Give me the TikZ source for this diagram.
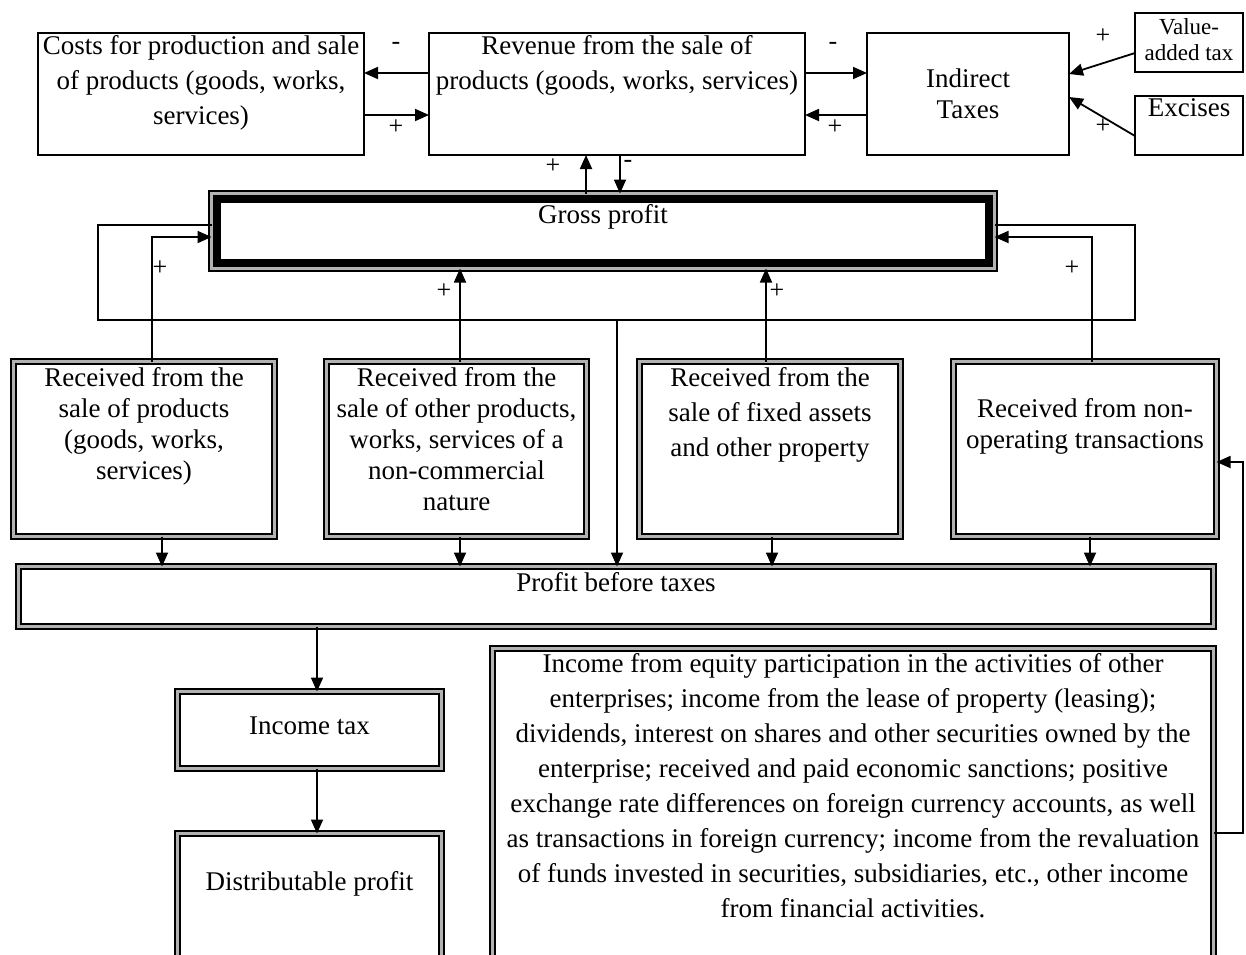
\documentclass[tikz,border=0pt]{standalone}
\usepackage{fontspec}
\setmainfont{Liberation Serif}
\usetikzlibrary{arrows.meta,positioning,fit}

\tikzset{
    box/.style={draw, line width=1pt, inner sep=0pt, outer sep=0pt},
    dbox/.style={draw, line width=0.9pt, double=gray!60, double distance=1.6pt,
        inner sep=0pt, outer sep=0pt},
    boxtext/.style={align=center, inner sep=1pt, anchor=north},
    sign/.style={inner sep=0pt, font=\fontsize{13}{14}\selectfont},
    link/.style={->, line width=0.9pt}
}

\begin{document}
\begin{tikzpicture}[x=0.5pt, y=-0.5pt, >={Triangle[length=7pt,width=6pt]},
    font=\fontsize{13.5}{17.5}\selectfont]

    \useasboundingbox (0,0) rectangle (1246,954);
    \clip (0,0) rectangle (1246,954);

    % top row
    \node[box, fit={(38,33) (364,155)}] (costs) {};
    \node[boxtext, below=0pt of costs.north] (costsTxt)
        {Costs for production and sale\\of products (goods, works,\\services)};

    \node[box, fit={(429,33) (805,155)}] (rev) {};
    \node[boxtext, below=0pt of rev.north] (revTxt)
        {Revenue from the sale of\\products (goods, works, services)};

    \node[box, fit={(867,33) (1069,155)}] (ind) {};
    \node[boxtext, below=16.5pt of ind.north,
        font=\fontsize{13.5}{15.5}\selectfont] (indTxt) {Indirect\\Taxes};

    \node[box, fit={(1135,13) (1243,72)}] (vat) {};
    \node[boxtext, below=1.5pt of vat.north,
        font=\fontsize{11.5}{13}\selectfont] (vatTxt) {Value-\\added tax};

    \node[box, fit={(1135,96) (1243,155)}] (exc) {};
    \node[boxtext, below=0pt of exc.north] (excTxt) {Excises};

    % gross profit
    \node[dbox, fit={(211.5,193.5) (994.5,268.5)}] (gross) {};
    \draw[line width=3pt] ([shift={(6.5,6.5)}]gross.north west)
        rectangle ([shift={(-6.5,-6.5)}]gross.south east);
    \node[boxtext, below=4.25pt of gross.north] (grossTxt) {Gross profit};

    % sources of profit
    \node[dbox, fit={(13.5,361.5) (274.5,536.5)}] (r1) {};
    \node[boxtext, below=1.75pt of r1.north,
        font=\fontsize{13.5}{15.5}\selectfont] (r1Txt)
        {Received from the\\sale of products\\(goods, works,\\services)};

    \node[dbox, fit={(326.5,361.5) (586.5,536.5)}] (r2) {};
    \node[boxtext, below=1.75pt of r2.north,
        font=\fontsize{13.5}{15.5}\selectfont] (r2Txt)
        {Received from the\\sale of other products,\\works, services of a\\non-commercial\\nature};

    \node[dbox, fit={(639.5,361.5) (900.5,536.5)}] (r3) {};
    \node[boxtext, below=1.75pt of r3.north] (r3Txt)
        {Received from the\\sale of fixed assets\\and other property};

    \node[dbox, fit={(953.5,361.5) (1216.5,536.5)}] (r4) {};
    \node[boxtext, below=17.25pt of r4.north,
        font=\fontsize{13.5}{15.5}\selectfont] (r4Txt)
        {Received from non-\\operating transactions};

    % lower part
    \node[dbox, fit={(18.5,566.5) (1213.5,626.5)}] (pbt) {};
    \node[boxtext, below=1.75pt of pbt.north] (pbtTxt) {Profit before taxes};

    \node[dbox, fit={(177.5,691.5) (441.5,768.5)}] (itax) {};
    \node[boxtext, below=11.5pt of itax.north] (itaxTxt) {Income tax};

    \node[dbox, fit={(177.5,833.5) (441.5,1000)}] (dist) {};
    \node[boxtext, below=18pt of dist.north] (distTxt) {Distributable profit};

    \node[dbox, fit={(492.5,648.5) (1213.5,1000)}] (inc) {};
    \node[boxtext, below=1.5pt of inc.north] (incTxt)
        {Income from equity participation in the activities of other\\
         enterprises; income from the lease of property (leasing);\\
         dividends, interest on shares and other securities owned by the\\
         enterprise; received and paid economic sanctions; positive\\
         exchange rate differences on foreign currency accounts, as well\\
         as transactions in foreign currency; income from the revaluation\\
         of funds invested in securities, subsidiaries, etc., other income\\
         from financial activities.};

    % connectors of the top row
    \draw[link] (rev.west |- 0,73) -- (costs.east |- 0,73);
    \draw[link] (costs.east |- 0,115) -- (rev.west |- 0,115);
    \draw[link] (rev.east |- 0,73) -- (ind.west |- 0,73);
    \draw[link] (ind.west |- 0,115) -- (rev.east |- 0,115);
    \draw[link] (vat.west |- 0,53) -- (ind.east |- 0,74);
    \draw[link] (exc.west |- 0,136) -- (ind.east |- 0,97);

    \draw[link] (gross.north -| 586,0) -- (rev.south -| 586,0);
    \draw[link] (rev.south -| 620,0) -- (gross.north -| 620,0);

    % into gross profit
    \draw[link] (r1.north -| 152,0) |- (gross.west |- 0,237);
    \draw[link] (r2.north -| 460,0) -- (gross.south -| 460,0);
    \draw[link] (r3.north -| 766,0) -- (gross.south -| 766,0);
    \draw[link] (r4.north -| 1092,0) |- (gross.east |- 0,237);

    % gross profit round to profit before taxes
    \coordinate (split) at (617,320);
    \draw[line width=0.9pt] (gross.west |- 0,225) -| (98,320) -| (1135,225)
        -- (gross.east |- 0,225);
    \draw[link] (split) -- (pbt.north -| split);

    \draw[link] (r1.south -| 162,0) -- (pbt.north -| 162,0);
    \draw[link] (r2.south -| 460,0) -- (pbt.north -| 460,0);
    \draw[link] (r3.south -| 772,0) -- (pbt.north -| 772,0);
    \draw[link] (r4.south -| 1090,0) -- (pbt.north -| 1090,0);

    \draw[link] (pbt.south -| 317,0) -- (itax.north -| 317,0);
    \draw[link] (itax.south -| 317,0) -- (dist.north -| 317,0);

    \draw[link] (inc.east |- 0,833) -| (1243,462) -- (r4.east |- 0,462);

    % signs
    \node[sign] (s1) at (396,46) {-};
    \node[sign] (s2) at (396,127) {+};
    \node[sign] (s3) at (833,46) {-};
    \node[sign] (s4) at (835,127) {+};
    \node[sign] (s5) at (1103,36) {+};
    \node[sign] (s6) at (1103,126) {+};
    \node[sign] (s7) at (553,166) {+};
    \node[sign] (s8) at (628,164) {-};
    \node[sign] (s9) at (160,268) {+};
    \node[sign] (s10) at (444,291) {+};
    \node[sign] (s11) at (777,291) {+};
    \node[sign] (s12) at (1072,268) {+};

\end{tikzpicture}
\end{document}
